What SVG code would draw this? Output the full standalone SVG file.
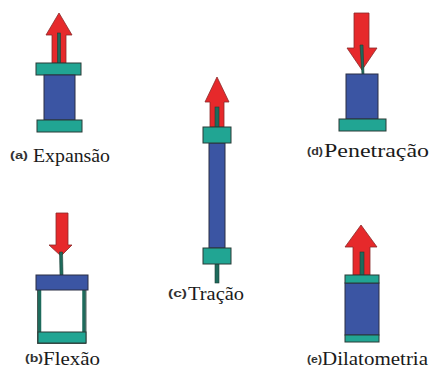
<svg xmlns="http://www.w3.org/2000/svg" width="435" height="369" viewBox="0 0 435 369">
  <style>
    .cap { fill: #21a593; stroke: #2a3a36; stroke-width: 1; }
    .body { fill: #3b55a3; stroke: #2a2f45; stroke-width: 1; }
    .arrow { fill: #e6292b; stroke: #8a2a2a; stroke-width: 0.8; stroke-linejoin: miter; }
    .rod { fill: #1e6b5c; stroke: #1b3f36; stroke-width: 0.6; }
    .tag { font-family: 'Liberation Sans', Arial, sans-serif; font-weight: bold; font-size: 10px; fill: #333333; }
    .name { font-family: 'Liberation Serif', 'DejaVu Serif', 'Times New Roman', serif; font-size: 18px; fill: #1a1a1a; }
  </style>
  <rect width="435" height="369" fill="#ffffff"/>

  <!-- (a) Expansão -->
  <g id="expansao">
    <path class="arrow" d="M59,13 L72,35 L66,35 L66,63 L52,63 L52,35 L46,35 Z"/>
    <rect class="rod" x="57.5" y="33" width="3" height="30"/>
    <rect class="cap" x="36" y="63" width="45" height="12"/>
    <rect class="body" x="44" y="75" width="31" height="45"/>
    <rect class="cap" x="37" y="120" width="45" height="12"/>
    <text class="tag" x="10" y="159" textLength="18" lengthAdjust="spacingAndGlyphs">(a)</text>
    <text class="name" x="33" y="162" textLength="77" lengthAdjust="spacingAndGlyphs">Expansão</text>
  </g>

  <!-- (b) Flexão -->
  <g id="flexao">
    <path class="arrow" d="M56,213 L68,213 L68,245 L72,245 L61,256 L49,245 L56,245 Z"/>
    <path class="rod" d="M59.5,252 L62.5,252 L63,275 L60,275 Z"/>
    <path d="M39.5,290 V341.5 H84 V290" fill="#ffffff" stroke="#1e6b5c" stroke-width="3.5"/>
    <rect x="37.5" y="289" width="48.5" height="54.5" fill="none" stroke="#2a3a36" stroke-width="0.8"/>
    <rect class="cap" x="38" y="332" width="48" height="11"/>
    <rect class="body" x="36" y="275" width="52" height="15"/>
    <text class="tag" x="25" y="362" textLength="18" lengthAdjust="spacingAndGlyphs">(b)</text>
    <text class="name" x="43" y="365" textLength="57" lengthAdjust="spacingAndGlyphs">Flexão</text>
  </g>

  <!-- (c) Tração -->
  <g id="tracao">
    <path class="arrow" d="M217,77 L229,102 L224,102 L224,127 L210,127 L210,102 L205,102 Z"/>
    <rect class="rod" x="215" y="107" width="4" height="20"/>
    <rect class="rod" x="215" y="264" width="4" height="19"/>
    <rect class="body" x="209" y="143" width="16" height="105"/>
    <rect class="cap" x="203" y="127" width="28" height="16"/>
    <rect class="cap" x="203" y="248" width="28" height="16"/>
    <text class="tag" x="168" y="297" textLength="19" lengthAdjust="spacingAndGlyphs">(c)</text>
    <text class="name" x="188" y="300" textLength="56" lengthAdjust="spacingAndGlyphs">Tração</text>
  </g>

  <!-- (d) Penetração -->
  <g id="penetracao">
    <path class="arrow" d="M354,13 L369,13 L369,48 L377,48 L362,70 L347,48 L354,48 Z"/>
    <path class="rod" d="M360,45 L363,45 L364,75 L362,75 Z"/>
    <rect class="body" x="346" y="74" width="32" height="45"/>
    <rect class="cap" x="339" y="119" width="47" height="12"/>
    <text class="tag" x="307" y="155" textLength="16" lengthAdjust="spacingAndGlyphs">(d)</text>
    <text class="name" x="324" y="157" textLength="105" lengthAdjust="spacingAndGlyphs">Penetração</text>
  </g>

  <!-- (e) Dilatometria -->
  <g id="dilatometria">
    <path class="arrow" d="M361,225 L377,247 L370,247 L370,275 L353,275 L353,247 L345,247 Z"/>
    <rect class="rod" x="360" y="252" width="4" height="23"/>
    <rect class="body" x="345" y="283" width="34" height="52"/>
    <rect class="cap" x="345" y="275" width="34" height="8"/>
    <rect class="cap" x="345" y="335" width="34" height="7"/>
    <text class="tag" x="307" y="363" textLength="15" lengthAdjust="spacingAndGlyphs">(e)</text>
    <text class="name" x="322" y="365" textLength="106" lengthAdjust="spacingAndGlyphs">Dilatometria</text>
  </g>

  <g id="connectors"></g>
</svg>
